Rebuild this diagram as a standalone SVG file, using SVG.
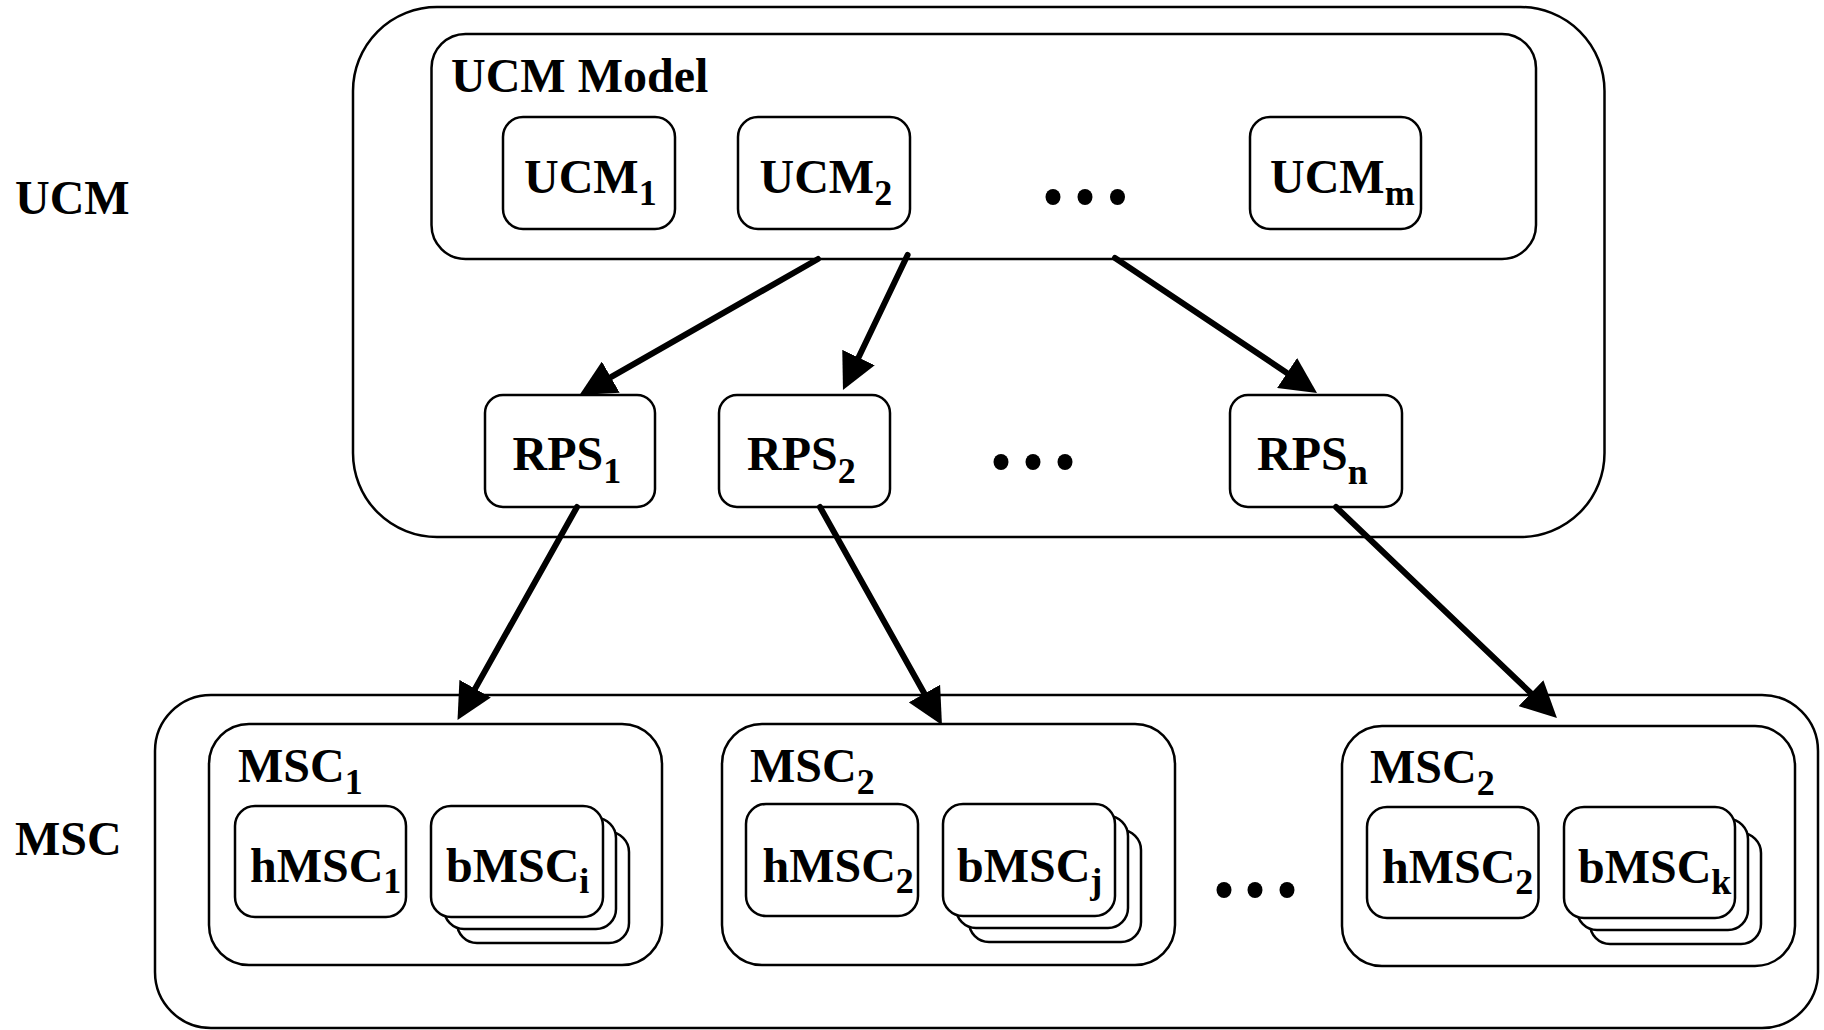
<svg xmlns="http://www.w3.org/2000/svg" width="1824" height="1030" viewBox="0 0 1824 1030">
  <style>
    .box { fill: #fff; stroke: #000; stroke-width: 2.5; }
    .t { font-family: "Liberation Serif", "Times New Roman", serif; font-weight: bold; font-size: 48px; fill: #000; }
    .sub { font-size: 36px; }
    .arrow { stroke: #000; stroke-width: 6; fill: none; stroke-linecap: round; marker-end: url(#head); }
    .dot { fill: #000; }
  </style>
  <defs>
    <marker id="head" markerUnits="userSpaceOnUse" markerWidth="36" markerHeight="36" viewBox="0 0 36 36" refX="16" refY="18" orient="auto">
      <path d="M0,0 L36,18 L0,36 Z" fill="#000"/>
    </marker>
  </defs>
  <rect width="1824" height="1030" fill="#fff"/>

  <!-- side labels -->
  <text id="label-ucm" class="t" x="15" y="214">UCM</text>
  <text id="label-msc" class="t" x="15" y="855">MSC</text>

  <!-- UCM container -->
  <g id="ucm-container">
    <rect class="box" x="353" y="7" width="1251.5" height="530" rx="84" ry="84"/>
  </g>
  <g id="ucm-model">
    <rect class="box" x="431.5" y="34" width="1104.5" height="225" rx="34" ry="34"/>
    <text class="t" x="451" y="92">UCM Model</text>
  </g>
  <g id="ucm1">
    <rect class="box" x="503" y="117" width="172" height="112" rx="20" ry="20"/>
    <text class="t" x="524" y="193">UCM<tspan class="sub" dy="12">1</tspan></text>
  </g>
  <g id="ucm2">
    <rect class="box" x="738" y="117" width="172" height="112" rx="20" ry="20"/>
    <text class="t" x="759.5" y="193">UCM<tspan class="sub" dy="12">2</tspan></text>
  </g>
  <g id="ucm-dots">
    <ellipse class="dot" cx="1053" cy="197" rx="7.5" ry="8"/>
    <ellipse class="dot" cx="1085" cy="197" rx="7.5" ry="8"/>
    <ellipse class="dot" cx="1117.5" cy="197" rx="7.5" ry="8"/>
  </g>
  <g id="ucmm">
    <rect class="box" x="1250" y="117" width="171" height="112" rx="20" ry="20"/>
    <text class="t" x="1270" y="193">UCM<tspan class="sub" dy="12">m</tspan></text>
  </g>

  <g id="rps1">
    <rect class="box" x="485" y="395" width="170" height="112" rx="18" ry="18"/>
    <text class="t" x="512.5" y="470">RPS<tspan class="sub" dy="13">1</tspan></text>
  </g>
  <g id="rps2">
    <rect class="box" x="719" y="395" width="171" height="112" rx="18" ry="18"/>
    <text class="t" x="747" y="470">RPS<tspan class="sub" dy="13">2</tspan></text>
  </g>
  <g id="rps-dots">
    <ellipse class="dot" cx="1001" cy="462" rx="7.5" ry="8"/>
    <ellipse class="dot" cx="1033" cy="462" rx="7.5" ry="8"/>
    <ellipse class="dot" cx="1065" cy="462" rx="7.5" ry="8"/>
  </g>
  <g id="rpsn">
    <rect class="box" x="1230" y="395" width="172" height="112" rx="18" ry="18"/>
    <text class="t" x="1257" y="470">RPS<tspan class="sub" dy="14">n</tspan></text>
  </g>

  <!-- MSC container -->
  <g id="msc-container">
    <rect class="box" x="155" y="695" width="1663" height="333" rx="56" ry="56"/>
  </g>

  <g id="msc1">
    <rect class="box" x="209" y="724" width="453" height="241" rx="40" ry="40"/>
    <text class="t" x="238" y="782">MSC<tspan class="sub" dy="12">1</tspan></text>
  </g>
  <g id="hmsc1">
    <rect class="box" x="235" y="806" width="171" height="111" rx="20" ry="20"/>
    <text class="t" x="250" y="882">hMSC<tspan class="sub" dy="11">1</tspan></text>
  </g>
  <g id="bmsci">
    <rect class="box" x="457" y="832" width="172" height="111" rx="20" ry="20"/>
    <rect class="box" x="444" y="818" width="172" height="111" rx="20" ry="20"/>
    <rect class="box" x="431" y="806" width="172" height="111" rx="20" ry="20"/>
    <text class="t" x="446" y="882">bMSC<tspan class="sub" dy="11">i</tspan></text>
  </g>

  <g id="msc2">
    <rect class="box" x="722" y="724" width="453" height="241" rx="40" ry="40"/>
    <text class="t" x="750" y="782">MSC<tspan class="sub" dy="12">2</tspan></text>
  </g>
  <g id="hmsc2">
    <rect class="box" x="746" y="804" width="172" height="112" rx="20" ry="20"/>
    <text class="t" x="762.5" y="882">hMSC<tspan class="sub" dy="11">2</tspan></text>
  </g>
  <g id="bmscj">
    <rect class="box" x="969" y="830" width="172" height="112" rx="20" ry="20"/>
    <rect class="box" x="956" y="816" width="172" height="112" rx="20" ry="20"/>
    <rect class="box" x="943" y="804" width="172" height="112" rx="20" ry="20"/>
    <text class="t" x="957" y="882">bMSC<tspan class="sub" dy="11">j</tspan></text>
  </g>

  <g id="msc-dots">
    <ellipse class="dot" cx="1224" cy="890" rx="7.5" ry="8"/>
    <ellipse class="dot" cx="1255" cy="890" rx="7.5" ry="8"/>
    <ellipse class="dot" cx="1287" cy="890" rx="7.5" ry="8"/>
  </g>

  <g id="msc3">
    <rect class="box" x="1342" y="726" width="453" height="240" rx="40" ry="40"/>
    <text class="t" x="1370" y="783">MSC<tspan class="sub" dy="12">2</tspan></text>
  </g>
  <g id="hmsc3">
    <rect class="box" x="1367" y="807" width="171.5" height="111" rx="20" ry="20"/>
    <text class="t" x="1382" y="883">hMSC<tspan class="sub" dy="11">2</tspan></text>
  </g>
  <g id="bmsck">
    <rect class="box" x="1590" y="833" width="171" height="111" rx="20" ry="20"/>
    <rect class="box" x="1577" y="819" width="171" height="111" rx="20" ry="20"/>
    <rect class="box" x="1564" y="807" width="171" height="111" rx="20" ry="20"/>
    <text class="t" x="1578" y="883">bMSC<tspan class="sub" dy="11">k</tspan></text>
  </g>

  <!-- connectors -->
  <g id="connectors">
    <line class="arrow" x1="818" y1="259" x2="596.9" y2="385.1"/>
    <line class="arrow" x1="907.6" y1="255" x2="851.6" y2="372"/>
    <line class="arrow" x1="1115" y1="258" x2="1300.4" y2="381.9"/>
    <line class="arrow" x1="577" y1="507" x2="467.3" y2="702.6"/>
    <line class="arrow" x1="820" y1="507" x2="932.2" y2="707.5"/>
    <line class="arrow" x1="1336" y1="507" x2="1542.5" y2="704.2"/>
  </g>
</svg>
